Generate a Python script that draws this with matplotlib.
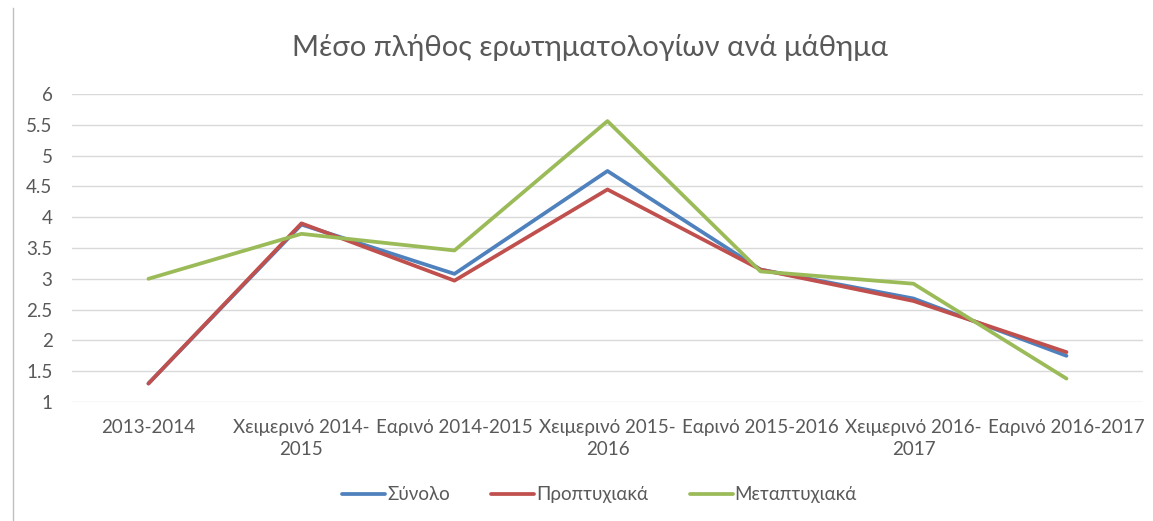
import matplotlib

matplotlib.use("Agg")
import matplotlib.pyplot as plt
from matplotlib.lines import Line2D
import numpy as np

plt.rcParams["font.family"] = ["Lato", "DejaVu Sans"]

# Data
semesters = [
    "2013-2014",
    "Χειμερινό 2014-\n2015",
    "Εαρινό 2014-2015",
    "Χειμερινό 2015-\n2016",
    "Εαρινό 2015-2016",
    "Χειμερινό 2016-\n2017",
    "Εαρινό 2016-2017",
]
total = [1.30, 3.88, 3.08, 4.75, 3.15, 2.68, 1.75]
undergrad = [1.30, 3.90, 2.97, 4.45, 3.15, 2.64, 1.81]
postgrad = [3.00, 3.73, 3.46, 5.56, 3.12, 2.92, 1.38]

series_names = ["Σύνολο", "Προπτυχιακά", "Μεταπτυχιακά"]
colors = ["#4F81BD", "#C0504D", "#9BBB59"]
TEXT_COLOR = "#595959"

fig = plt.figure(figsize=(11.53, 5.21), dpi=100)
ax = fig.add_axes([0.0624, 0.2284, 0.9289, 0.5912])

x = np.arange(len(semesters))
for vals, name, col in zip([total, undergrad, postgrad], series_names, colors):
    ax.plot(x, vals, color=col, linewidth=2.7, label=name, solid_capstyle="round")

ax.set_xlim(-0.5, len(semesters) - 0.5)
ax.set_ylim(1, 6)
ax.set_yticks(np.arange(1, 6.01, 0.5))
ax.set_yticklabels([f"{v:g}" for v in np.arange(1, 6.01, 0.5)])
ax.set_xticks(x)
ax.set_xticklabels(semesters, linespacing=1.35)

ax.grid(axis="y", color="#D9D9D9", linewidth=1)
ax.set_axisbelow(True)
for side in ["top", "right", "left", "bottom"]:
    ax.spines[side].set_visible(False)
ax.tick_params(axis="both", length=0, labelsize=13.5, colors=TEXT_COLOR)
ax.tick_params(axis="x", pad=12)
ax.tick_params(axis="y", pad=14)

fig.text(0.512, 0.908, "Μέσο πλήθος ερωτηματολογίων ανά μάθημα",
         ha="center", va="center", fontsize=21, color=TEXT_COLOR)

fig.legend(loc="center", bbox_to_anchor=(0.52, 0.05), ncol=3, frameon=False,
           fontsize=13.5, labelcolor=TEXT_COLOR, handlelength=2.3,
           handletextpad=0.1, columnspacing=2.2)

# thin frame edge visible on the left side of the reference
fig.add_artist(Line2D([0.011, 0.011], [0.0, 0.985], color="#BFBFBF", linewidth=1))

fig.savefig("out.png", dpi=100)
